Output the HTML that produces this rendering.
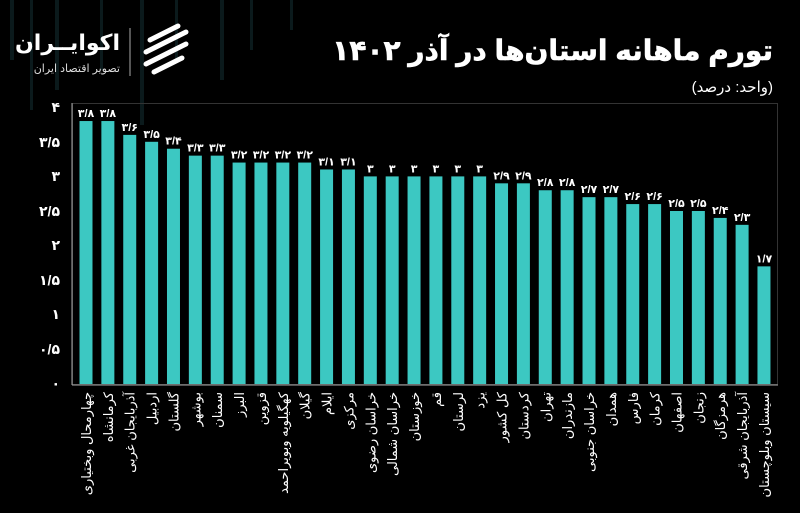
<!DOCTYPE html>
<html><head><meta charset="utf-8"><style>
body{margin:0;background:#000;}
svg{display:block;font-family:"Liberation Sans","Noto Sans CJK SC","DejaVu Sans",sans-serif;}
</style></head><body>
<svg width="800" height="513" viewBox="0 0 800 513" xmlns="http://www.w3.org/2000/svg">
<rect width="800" height="513" fill="#000"/>
<g fill="#0b1a1c">
<rect x="10" y="0" width="4" height="60"/><rect x="30" y="0" width="3" height="110"/><rect x="55" y="0" width="4" height="90"/><rect x="100" y="0" width="3" height="70"/><rect x="140" y="0" width="4" height="125"/><rect x="175" y="0" width="3" height="60"/><rect x="220" y="0" width="4" height="80"/><rect x="250" y="0" width="3" height="50"/><rect x="290" y="0" width="3" height="30"/>
</g>
<!-- logo -->
<text x="120" y="50" fill="#fff" font-size="22" font-weight="bold" text-anchor="end">اکوایــران</text>
<text x="120" y="72" fill="#ddd" font-size="11" text-anchor="end">تصویر اقتصاد ایران</text>
<line x1="130" y1="28" x2="130" y2="76" stroke="#aaa" stroke-width="1"/>
<g stroke="#fff" stroke-width="5" fill="none" stroke-linecap="round">
<path d="M150 40 L178 26"/><path d="M146 52 L186 32"/><path d="M146 64 L186 44"/><path d="M154 72 L182 58"/>
</g>
<!-- title -->
<text x="773" y="60" fill="#fff" font-size="28" font-weight="bold" text-anchor="end" stroke="#fff" stroke-width="0.6">تورم ماهانه استان‌ها در آذر ۱۴۰۲</text>
<text x="773" y="92" fill="#fff" font-size="15" text-anchor="end">(واحد: درصد)</text>
<!-- frame -->
<rect x="72.5" y="103.5" width="705" height="281" fill="none" stroke="#333" stroke-width="1"/>
<line x1="72" y1="385" x2="778" y2="385" stroke="#aaa"/>
<line x1="72" y1="103" x2="72" y2="385" stroke="#aaa"/>
<g fill="#fff" font-size="14" font-weight="bold" text-anchor="end" direction="ltr" unicode-bidi="bidi-override">
<text x="60" y="112">۴</text><text x="60" y="147">۳/۵</text><text x="60" y="181">۳</text><text x="60" y="216">۲/۵</text><text x="60" y="250">۲</text><text x="60" y="285">۱/۵</text><text x="60" y="319">۱</text><text x="60" y="354">۰/۵</text><text x="60" y="388">۰</text>
</g>
<g id="bars"></g>
</svg>
<script>
var v=[3.8,3.8,3.6,3.5,3.4,3.3,3.3,3.2,3.2,3.2,3.2,3.1,3.1,3,3,3,3,3,3,2.9,2.9,2.8,2.8,2.7,2.7,2.6,2.6,2.5,2.5,2.4,2.3,1.7];
var n=["چهارمحال وبختیاری","کرمانشاه","آذربایجان غربی","اردبیل","گلستان","بوشهر","سمنان","البرز","قزوین","کهگیلویه وبویراحمد","گیلان","ایلام","مرکزی","خراسان رضوی","خراسان شمالی","خوزستان","قم","لرستان","یزد","کل کشور","کردستان","تهران","مازندران","خراسان جنوبی","همدان","فارس","کرمان","اصفهان","زنجان","هرمزگان","آذربایجان شرقی","سیستان وبلوچستان"];
function fa(x){var s=String(x).replace('.','/');return s.replace(/[0-9]/g,function(d){return '۰۱۲۳۴۵۶۷۸۹'[d];});}
var g=document.getElementById('bars'),h='';
for(var i=0;i<32;i++){var cx=86+i*21.87,y=384-v[i]*69.2;
h+='<rect x="'+(cx-6.5)+'" y="'+y+'" width="13" height="'+(384-y)+'" fill="#3cc8c2"/>';
h+='<text x="'+cx+'" y="'+(y-4)+'" fill="#fff" font-size="11" font-weight="bold" text-anchor="middle" direction="ltr" unicode-bidi="bidi-override">'+fa(v[i])+'</text>';
h+='<text x="'+(cx+5)+'" y="392" transform="rotate(-90 '+(cx+5)+' 392)" fill="#fff" font-size="13" text-anchor="end">'+n[i]+'</text>';}
g.innerHTML=h;
</script>
</body></html>
